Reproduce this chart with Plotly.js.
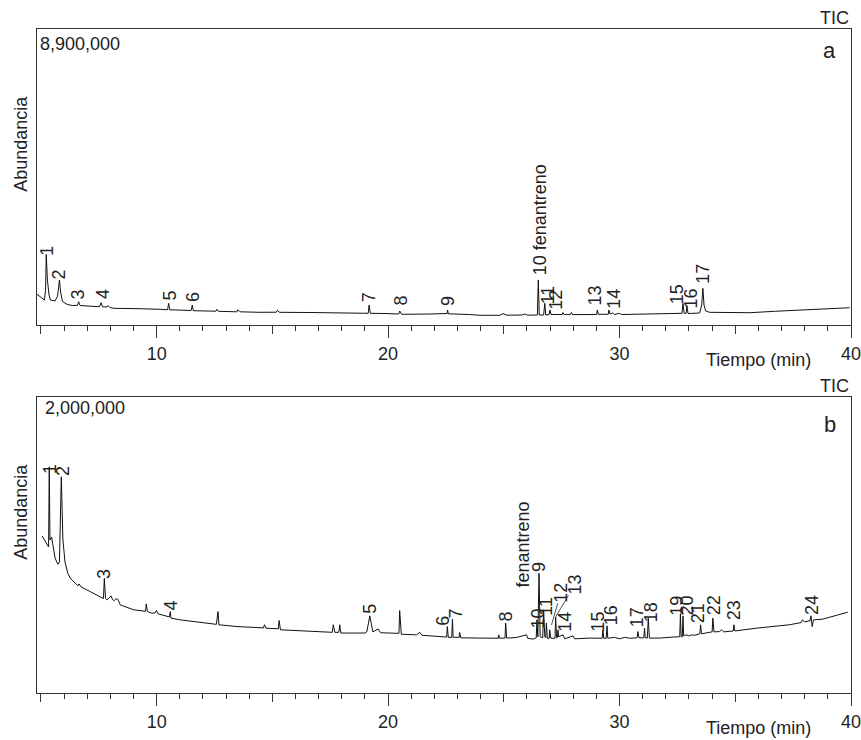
<!DOCTYPE html>
<html>
<head>
<meta charset="utf-8">
<script src="https://cdn.plot.ly/plotly-3.0.1.min.js"></script>
<style>html,body{margin:0;padding:0;background:#fff;}#chart{width:861px;height:740px;}</style>
</head>
<body>
<div id="chart"></div>
<script>
// ---- Panel a: TIC (abundance in thousands) ----
const timeA = [4.83,5.00,5.15,5.20,5.23,5.28,5.35,5.41,5.61,5.72,5.80,5.85,5.93,6.13,6.35,6.58,6.63,6.69,7.12,7.53,7.60,7.66,7.85,7.90,7.98,8.14,9.28,9.80,9.97,10.14,10.47,10.52,10.56,11.49,11.54,11.58,12.56,12.60,12.67,13.47,13.51,13.60,14.46,15.17,15.22,15.30,16.62,17.91,19.14,19.18,19.23,19.86,20.46,20.50,20.59,21.80,22.55,22.57,22.60,23.52,23.96,24.82,24.97,25.13,25.77,25.90,26.03,26.45,26.49,26.53,26.72,26.77,26.81,26.96,26.99,27.04,27.52,27.55,27.60,27.89,27.92,27.97,28.71,29.01,29.04,29.08,29.51,29.54,29.59,29.70,29.79,29.96,30.09,31.30,32.70,32.74,32.79,32.88,32.91,32.96,33.46,33.55,33.60,33.65,33.72,33.89,35.62,36.70,37.92,39.94];
const abundA = [923,842,752,1050,2120,1350,902,752,722,872,1353,992,707,622,586,592,700,586,562,550,670,547,541,586,526,502,490,481,496,472,460,652,457,436,601,430,415,472,412,397,460,397,382,385,442,382,376,361,352,601,352,346,331,421,322,331,346,451,337,316,292,292,340,295,301,331,295,301,1353,301,301,652,301,316,451,316,316,376,316,322,376,313,301,316,451,322,322,451,331,361,316,352,316,331,352,652,352,352,580,346,361,601,1103,601,421,382,370,412,451,520];
const labelsA = ['1','2','3','4','5','6','7','8','9','10 fenantreno','11','12','13','14','15','16','17'];
const labelTimeA = [5.26,5.80,6.62,7.68,10.57,11.57,19.17,20.55,22.56,26.55,26.90,27.24,28.93,29.75,32.49,33.07,33.59];
const labelBaseA = [2050,1353,752,752,701,661,652,550,550,1473,601,421,550,451,601,451,1203];
const fullScaleA = 8900;

// ---- Panel b: TIC (abundance in thousands) ----
const timeB = [5.05,5.18,5.26,5.33,5.36,5.39,5.46,5.55,5.61,5.73,5.80,5.88,5.95,6.04,6.16,6.27,6.47,6.60,6.65,6.73,7.13,7.64,7.70,7.74,7.79,7.85,7.98,8.03,8.09,8.16,8.24,8.32,8.43,9.01,9.52,9.55,9.60,9.80,9.93,9.99,10.06,10.55,10.59,10.62,11.02,12.03,12.58,12.65,12.69,13.47,14.61,14.66,14.72,15.26,15.29,15.35,16.06,16.92,17.59,17.63,17.70,17.87,17.91,17.96,19.00,19.08,19.21,19.34,19.57,19.68,19.93,20.47,20.50,20.57,21.23,21.37,21.46,22.23,22.53,22.56,22.60,22.75,22.78,22.81,23.07,23.09,23.14,23.96,24.76,24.78,24.82,25.05,25.08,25.12,25.54,25.98,26.03,26.26,26.40,26.43,26.47,26.52,26.57,26.68,26.72,26.77,26.81,26.84,26.88,26.96,26.98,27.03,27.21,27.24,27.28,27.32,27.34,27.37,27.56,27.63,27.99,28.06,28.71,29.25,29.28,29.32,29.42,29.46,29.49,29.79,30.00,30.22,30.43,30.76,30.79,30.84,31.05,31.08,31.11,31.20,31.24,31.29,31.73,32.31,32.60,32.63,32.66,32.71,32.74,32.77,32.90,32.99,33.12,33.25,33.47,33.50,33.54,34.00,34.03,34.08,34.32,34.41,34.50,34.91,34.94,34.98,35.91,37.34,37.85,37.90,37.99,38.23,38.27,38.32,38.38,38.78,39.79,39.86];
const abundB = [1061,1027,1000,987,1528,1034,1054,946,912,870,885,1461,1034,885,809,775,744,724,737,717,685,641,638,775,639,629,646,656,632,624,636,634,595,562,552,602,550,539,541,558,535,514,550,506,494,476,464,550,461,449,440,461,438,434,490,427,422,415,410,461,410,410,461,405,405,413,521,413,432,407,405,403,557,397,393,410,390,382,378,449,376,376,499,376,376,409,373,371,370,393,370,371,472,371,375,393,370,364,373,494,380,809,380,373,562,380,373,472,370,370,427,370,370,512,373,376,427,380,393,366,386,366,371,370,427,370,370,454,370,376,366,376,370,373,415,373,373,438,373,371,506,371,371,378,380,535,380,380,521,386,393,386,393,390,400,461,400,413,506,413,415,427,413,419,461,419,438,461,476,494,481,488,521,449,494,499,539,546];
const labelsB = ['1','2','3','4','5','6','7','8','fenantreno','9','10','11','14','15','16','17','18','19','20','21','22','23','24'];
const labelTimeB = [5.39,5.95,7.73,10.62,19.21,22.34,22.92,25.08,25.84,26.51,26.46,26.81,27.63,29.05,29.62,30.76,31.36,32.49,32.92,33.37,34.11,34.93,38.34];
const labelBaseB = [1472,1459,764,550,528,449,494,474,708,809,427,517,405,405,449,438,472,517,517,461,517,483,517];
const leaderLabelsB = ['12','13'];
const leaderTextTimeB = [27.46,28.06];
const leaderTextAbundB = [676,730];
const leaderPeakTimeB = [27.06,27.24];
const leaderPeakAbundB = [460,514];
const fullScaleB = 2000;

const tickValsMajor = [10,20,30,40];
const tickValsMid = [5,15,25,35];
const xRange = [4.83, 40];

const FONT = 'Liberation Sans, Arial, Helvetica, sans-serif';
const INK = '#222222';
const FRAME = '#333333';

const traces = [
  {x: timeA, y: abundA, xaxis: 'x', yaxis: 'y', type: 'scatter', mode: 'lines',
   line: {color: '#111111', width: 1}, hoverinfo: 'skip', showlegend: false},
  {x: timeB, y: abundB, xaxis: 'x2', yaxis: 'y2', type: 'scatter', mode: 'lines',
   line: {color: '#111111', width: 1}, hoverinfo: 'skip', showlegend: false},
  {x: [], y: [], xaxis: 'x3', yaxis: 'y', type: 'scatter', mode: 'lines', showlegend: false},
  {x: [], y: [], xaxis: 'x4', yaxis: 'y2', type: 'scatter', mode: 'lines', showlegend: false}
];

function mainX(anchor) {
  return {
    anchor: anchor, domain: [0, 1], range: xRange, autorange: false,
    tickmode: 'array', tickvals: tickValsMajor, ticktext: tickValsMajor.map(String),
    ticks: 'outside', ticklen: 12, tickwidth: 1, tickcolor: FRAME,
    ticklabeloverflow: 'allow',
    showline: true, mirror: true, linecolor: FRAME, linewidth: 1.2,
    showgrid: false, zeroline: false,
    tickfont: {family: FONT, size: 18, color: INK},
    minor: {tickmode: 'linear', tick0: 0, dtick: 1, ticks: 'outside', ticklen: 5, tickwidth: 1, tickcolor: FRAME, showgrid: false}
  };
}
function midX(over, anchor) {
  return {
    overlaying: over, anchor: anchor, side: 'bottom', range: xRange, autorange: false,
    tickmode: 'array', tickvals: tickValsMid, showticklabels: false,
    ticks: 'outside', ticklen: 8, tickwidth: 1, tickcolor: FRAME,
    showline: false, showgrid: false, zeroline: false
  };
}
function yAx(anchor, domain, top) {
  return {
    anchor: anchor, domain: domain, range: [0, top], autorange: false,
    showticklabels: false, ticks: '', showline: true, mirror: true,
    linecolor: FRAME, linewidth: 1.2, showgrid: false, zeroline: false
  };
}

const ann = [];
function txt(o) {
  return Object.assign({showarrow: false, font: {family: FONT, size: 18, color: INK}}, o);
}
// panel frame texts
[['x', 'y', '8,900,000', 1, -14.5, 'a', -21.4], ['x2', 'y2', '2,000,000', 6, -10.8, 'b', -27.7]].forEach(function (p) {
  const xd = p[0] + ' domain', yd = p[1] + ' domain';
  ann.push(txt({xref: xd, yref: yd, x: 1, y: 1, xanchor: 'right', yanchor: 'middle', yshift: 11, text: 'TIC'}));
  ann.push(txt({xref: xd, yref: yd, x: 0, y: 1, xanchor: 'left', yanchor: 'middle', xshift: p[3], yshift: p[4], text: p[2]}));
  ann.push(txt({xref: xd, yref: yd, x: 1, y: 1, xanchor: 'right', yanchor: 'middle', xshift: -13, yshift: p[6], text: p[5], font: {family: FONT, size: 22, color: INK}}));
  ann.push(txt({xref: xd, yref: yd, x: 0, y: 0.612, xanchor: 'center', yanchor: 'middle', xshift: -16, textangle: -90, text: 'Abundancia'}));
  ann.push(txt({xref: xd, yref: yd, x: 0.9533, y: 0, xanchor: 'right', yanchor: 'middle', yshift: -35, text: 'Tiempo (min)'}));
});
// peak labels
labelsA.forEach(function (l, i) {
  ann.push(txt({xref: 'x', yref: 'y', x: labelTimeA[i], y: labelBaseA[i], xanchor: 'center', yanchor: 'bottom', textangle: -90, text: l, borderpad: 0}));
});
labelsB.forEach(function (l, i) {
  ann.push(txt({xref: 'x2', yref: 'y2', x: labelTimeB[i], y: labelBaseB[i], xanchor: 'center', yanchor: 'bottom', textangle: -90, text: l, borderpad: 0}));
});
leaderLabelsB.forEach(function (l, i) {
  ann.push({xref: 'x2', yref: 'y2', axref: 'x2', ayref: 'y2', x: leaderPeakTimeB[i], y: leaderPeakAbundB[i],
    ax: leaderTextTimeB[i], ay: leaderTextAbundB[i], showarrow: true, arrowhead: 0, arrowwidth: 0.8,
    arrowcolor: INK, standoff: 0, startstandoff: 0, textangle: -90, text: l, borderpad: 0,
    font: {family: FONT, size: 18, color: INK}});
});

const layout = {
  width: 861, height: 740,
  margin: {l: 37, r: 10, t: 29, b: 47, pad: 0},
  paper_bgcolor: '#ffffff', plot_bgcolor: '#ffffff',
  showlegend: false, hovermode: false,
  font: {family: FONT, size: 18, color: INK},
  xaxis: mainX('y'),
  yaxis: yAx('x', [0.5542, 1], fullScaleA),
  xaxis2: mainX('y2'),
  yaxis2: yAx('x2', [0, 0.4458], fullScaleB),
  xaxis3: midX('x', 'y'),
  xaxis4: midX('x2', 'y2'),
  annotations: ann
};

Plotly.newPlot('chart', traces, layout, {displayModeBar: false, staticPlot: true});
</script>
</body>
</html>
